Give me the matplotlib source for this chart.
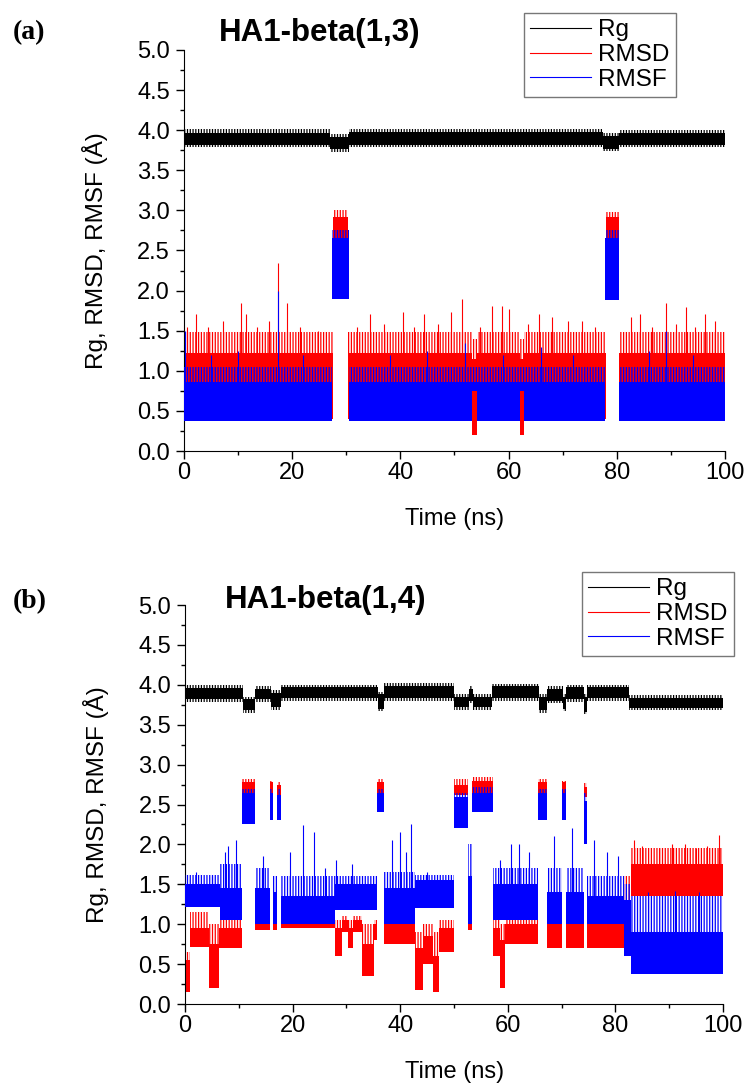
import numpy as np
import matplotlib.pyplot as plt
from matplotlib.lines import Line2D
from matplotlib.ticker import MultipleLocator

plt.rcParams['font.family'] = ['Liberation Sans', 'DejaVu Sans']
plt.rcParams['hatch.linewidth'] = 0.9

# ---- (a) HA1-beta(1,3): bands (segment edges in ns, values in Å) ----
a_rg_edges = [0, 27, 30.5, 77.5, 80.5, 100]
a_rg_bot = [3.79, 3.73, 3.79, 3.74, 3.79]
a_rg_lo = [3.82, 3.76, 3.82, 3.77, 3.82]
a_rg_hi = [3.97, 3.92, 3.98, 3.93, 3.96]
a_rg_top = [4.01, 3.95, 4.02, 3.97, 4.00]

a_rmsd_edges = [0, 27.5, 30.3, 53.3, 54.1, 62.1, 62.8, 78.0, 80.5, 100]
a_rmsd_lo = [0.40, 2.55, 0.40, 0.20, 0.40, 0.20, 0.40, 2.55, 0.40]
a_rmsd_hi = [1.22, 2.92, 1.22, 1.15, 1.22, 1.15, 1.22, 2.92, 1.22]
a_rmsd_top = [1.48, 3.00, 1.48, 1.40, 1.48, 1.40, 1.48, 2.98, 1.48]

a_rmsf_edges = [0, 27.3, 30.5, 53.3, 54.1, 62.1, 62.8, 77.8, 80.5, 100]
a_rmsf_lo = [0.38, 1.90, 0.38, 0.75, 0.38, 0.75, 0.38, 1.88, 0.38]
a_rmsf_hi = [0.86, 2.65, 0.86, 0.86, 0.86, 0.86, 0.86, 2.65, 0.86]
a_rmsf_top = [1.05, 2.75, 1.05, 1.05, 1.05, 1.05, 1.05, 2.75, 1.05]

a_rmsd_spk_t = [0.5, 2.3, 4.5, 7.2, 10.6, 11.5, 13.5, 15.8, 17.3, 19.0, 21.5, 24.8,
                32.0, 34.3, 37.0, 40.4, 42.5, 44.4, 47.0, 49.3, 51.4, 54.8, 56.9, 58.8,
                60.0, 63.5, 65.6, 68.0, 71.0, 73.5, 76.0, 82.7, 84.3, 86.5, 89.1, 91.0,
                92.8, 94.5, 96.3, 98.1]
a_rmsd_spk_v = [1.54, 1.71, 1.55, 1.62, 1.85, 1.71, 1.55, 1.62, 2.34, 1.85, 1.55, 1.50,
                1.55, 1.71, 1.58, 1.73, 1.55, 1.71, 1.58, 1.73, 1.90, 1.55, 1.81, 1.81,
                1.77, 1.58, 1.71, 1.67, 1.62, 1.62, 1.54, 1.67, 1.71, 1.55, 1.85, 1.58,
                1.79, 1.55, 1.71, 1.62]
a_rmsf_spk_t = [0.2, 5.0, 10.0, 17.3, 22.0, 38.0, 45.0, 52.0, 59.0, 66.0, 72.0, 86.0, 89.1, 94.0]
a_rmsf_spk_v = [1.50, 1.20, 1.25, 2.00, 1.20, 1.20, 1.25, 1.35, 1.20, 1.30, 1.20, 1.25, 1.50, 1.20]

# ---- (b) HA1-beta(1,4) ----
b_rg_edges = [0, 10.8, 13.0, 16.0, 17.8, 35.8, 37.0, 50.0, 52.8, 53.5, 57.0, 65.7,
              67.2, 70.2, 70.8, 74.2, 74.7, 82.5, 100]
b_rg_lo = [3.82, 3.68, 3.82, 3.72, 3.83, 3.70, 3.83, 3.72, 3.80, 3.72, 3.83, 3.68,
           3.80, 3.70, 3.82, 3.66, 3.83, 3.71]
b_rg_hi = [3.96, 3.82, 3.95, 3.90, 3.97, 3.88, 3.98, 3.85, 3.95, 3.85, 3.98, 3.85,
           3.95, 3.85, 3.97, 3.85, 3.97, 3.83]
b_rg_bot = [3.79, 3.65, 3.79, 3.69, 3.80, 3.67, 3.80, 3.69, 3.77, 3.69, 3.80, 3.65,
            3.77, 3.67, 3.79, 3.64, 3.80, 3.68]
b_rg_top = [4.00, 3.85, 3.98, 3.93, 4.00, 3.91, 4.02, 3.88, 3.98, 3.88, 4.01, 3.88,
            3.98, 3.88, 4.00, 3.88, 4.00, 3.87]

b_rmsd_edges = [0, 1.0, 4.5, 6.3, 10.6, 13.0, 15.7, 16.3, 17.1, 17.9, 27.8, 29.2, 30.3,
                31.2, 32.8, 35.2, 35.7, 37.0, 42.8, 44.3, 46.0, 47.2, 50.0, 52.6, 53.3,
                57.2, 58.5, 59.5, 65.6, 67.2, 70.1, 70.8, 74.2, 74.7, 81.5, 82.8, 100]
b_rmsd_lo = [0.15, 0.72, 0.20, 0.70, 2.62, 0.93, 2.62, 0.93, 2.62, 0.95, 0.60, 0.90,
             0.70, 0.90, 0.35, 0.80, 2.65, 0.75, 0.18, 0.50, 0.15, 0.65, 2.62, 0.93,
             2.65, 0.60, 0.20, 0.75, 2.65, 0.70, 2.65, 0.70, 2.60, 0.70, 0.80, 1.35]
b_rmsd_hi = [0.55, 0.95, 0.75, 0.95, 2.78, 1.05, 2.78, 1.05, 2.75, 1.08, 0.95, 1.05,
             0.95, 1.05, 0.75, 1.00, 2.78, 1.00, 0.70, 0.85, 0.60, 0.95, 2.75, 1.05,
             2.80, 0.95, 0.80, 1.00, 2.78, 1.00, 2.78, 1.00, 2.72, 1.00, 1.20, 1.75]
b_rmsd_top = [0.65, 1.15, 1.00, 1.10, 2.82, 1.10, 2.80, 1.10, 2.78, 1.15, 1.05, 1.10,
              1.05, 1.10, 1.00, 1.05, 2.82, 1.10, 0.90, 1.00, 0.90, 1.05, 2.82, 1.10,
              2.85, 1.10, 1.00, 1.10, 2.82, 1.10, 2.80, 1.10, 2.77, 1.10, 1.60, 1.95]

b_rmsf_edges = [0, 6.5, 10.6, 13.0, 15.7, 16.3, 17.1, 17.9, 27.8, 35.7, 37.0, 42.8,
                50.0, 52.6, 53.3, 57.2, 65.6, 67.2, 70.1, 70.8, 74.2, 74.7, 81.5, 82.8, 100]
b_rmsf_lo = [1.22, 1.05, 2.25, 1.00, 2.30, 1.00, 2.30, 1.00, 1.18, 2.40, 1.00, 1.20,
             2.20, 1.00, 2.40, 1.05, 2.30, 1.00, 2.30, 1.00, 2.00, 1.00, 0.60, 0.38]
b_rmsf_hi = [1.50, 1.45, 2.65, 1.45, 2.65, 1.40, 2.62, 1.35, 1.50, 2.65, 1.45, 1.55,
             2.60, 1.60, 2.65, 1.50, 2.65, 1.40, 2.65, 1.40, 2.55, 1.35, 1.30, 0.90]
b_rmsf_top = [1.62, 1.75, 2.70, 1.70, 2.70, 1.60, 2.70, 1.60, 1.60, 2.70, 1.65, 1.62,
              2.65, 2.00, 2.72, 1.70, 2.70, 1.70, 2.70, 1.70, 2.65, 1.60, 1.50, 1.35]

b_rmsd_spk_t = [83.5, 85.0, 88.0, 90.5, 93.0, 95.0, 97.0, 99.3]
b_rmsd_spk_v = [2.05, 1.98, 1.95, 2.00, 2.00, 1.95, 1.98, 2.12]
b_rmsf_spk_t = [2.0, 5.0, 7.5, 8.0, 9.5, 14.5, 19.5, 22.0, 24.0, 26.0, 28.0, 31.0,
                38.5, 40.0, 41.0, 42.0, 45.0, 58.5, 60.5, 62.0, 64.0, 68.5, 72.0,
                76.0, 78.5, 80.5, 86.0, 91.0, 95.5]
b_rmsf_spk_v = [1.65, 1.60, 1.90, 1.98, 2.05, 1.85, 1.90, 2.24, 2.15, 1.70, 1.80, 1.75,
                2.05, 2.15, 1.90, 2.25, 1.65, 1.80, 2.00, 2.00, 1.90, 2.10, 2.20,
                2.05, 1.90, 1.85, 1.40, 1.42, 1.40]

RG_C, RMSD_C, RMSF_C = 'black', '#ff0000', '#0000ff'


def band(ax, edges, lo, hi, top, color, z, bot=None):
    # solid core of the noisy trace, with a comb-like fringe above (and below for Rg)
    ax.stairs(hi, edges, baseline=lo, fill=True, color=color, lw=0, zorder=z)
    ax.stairs(top, edges, baseline=hi, fill=True, facecolor='none', edgecolor=color,
              hatch='||||||', lw=0, zorder=z)
    if bot is not None:
        ax.stairs(lo, edges, baseline=bot, fill=True, facecolor='none', edgecolor=color,
                  hatch='||||||', lw=0, zorder=z)


def spikes(ax, edges, hi, ts, vs, color, z):
    idx = np.searchsorted(edges, ts, side='right') - 1
    base = np.asarray(hi)[idx]
    ax.vlines(ts, base, vs, color=color, lw=0.8, zorder=z)


def style(ax):
    ax.set_xlim(0, 100)
    ax.set_ylim(0, 5)
    ax.spines['top'].set_visible(False)
    ax.spines['right'].set_visible(False)
    ax.xaxis.set_major_locator(MultipleLocator(20))
    ax.xaxis.set_minor_locator(MultipleLocator(10))
    ax.yaxis.set_major_locator(MultipleLocator(0.5))
    ax.yaxis.set_minor_locator(MultipleLocator(0.25))
    ax.yaxis.set_major_formatter('{x:.1f}')
    ax.tick_params(which='major', direction='out', length=6, width=1, labelsize=17)
    ax.tick_params(which='minor', direction='out', length=3, width=1)
    ax.tick_params(axis='x', pad=2)
    ax.tick_params(axis='y', pad=4)
    ax.set_xlabel('Time (ns)', fontsize=17, labelpad=17)
    ax.set_ylabel('Rg, RMSD, RMSF (Å)', fontsize=17.5, labelpad=21)


fig = plt.figure(figsize=(7.47, 10.86), dpi=100)
ax_a = fig.add_axes([0.2463, 0.5847, 0.7242, 0.3693])
ax_b = fig.add_axes([0.2477, 0.0755, 0.7203, 0.3674])

band(ax_a, a_rg_edges, a_rg_lo, a_rg_hi, a_rg_top, RG_C, 1, bot=a_rg_bot)
band(ax_a, a_rmsd_edges, a_rmsd_lo, a_rmsd_hi, a_rmsd_top, RMSD_C, 2)
spikes(ax_a, a_rmsd_edges, a_rmsd_hi, a_rmsd_spk_t, a_rmsd_spk_v, RMSD_C, 2)
band(ax_a, a_rmsf_edges, a_rmsf_lo, a_rmsf_hi, a_rmsf_top, RMSF_C, 3)
spikes(ax_a, a_rmsf_edges, a_rmsf_hi, a_rmsf_spk_t, a_rmsf_spk_v, RMSF_C, 3)

band(ax_b, b_rg_edges, b_rg_lo, b_rg_hi, b_rg_top, RG_C, 1, bot=b_rg_bot)
band(ax_b, b_rmsd_edges, b_rmsd_lo, b_rmsd_hi, b_rmsd_top, RMSD_C, 2)
spikes(ax_b, b_rmsd_edges, b_rmsd_hi, b_rmsd_spk_t, b_rmsd_spk_v, RMSD_C, 2)
band(ax_b, b_rmsf_edges, b_rmsf_lo, b_rmsf_hi, b_rmsf_top, RMSF_C, 3)
spikes(ax_b, b_rmsf_edges, b_rmsf_hi, b_rmsf_spk_t, b_rmsf_spk_v, RMSF_C, 3)

for ax in (ax_a, ax_b):
    style(ax)

handles = [Line2D([], [], color=RG_C, lw=0.8),
           Line2D([], [], color=RMSD_C, lw=0.8),
           Line2D([], [], color=RMSF_C, lw=0.8)]
labels = ['Rg', 'RMSD', 'RMSF']
for x0, y0 in [(524 / 747, 1 - 13 / 1086), (582 / 747, 1 - 572 / 1086)]:
    fig.legend(handles, labels, loc='upper left', bbox_to_anchor=(x0, y0),
               fontsize=17.5, frameon=True, fancybox=False, edgecolor='#777777',
               framealpha=1, borderpad=0.25, borderaxespad=0, handlelength=2.5,
               handletextpad=0.3, labelspacing=0.12)

fig.text(13 / 747, 1 - 33 / 1086, '(a)', fontsize=20, fontweight='bold',
         family=['Liberation Serif', 'DejaVu Serif'], ha='left', va='center')
fig.text(13 / 747, 1 - 602 / 1086, '(b)', fontsize=20, fontweight='bold',
         family=['Liberation Serif', 'DejaVu Serif'], ha='left', va='center')
fig.text(320 / 747, 1 - 33 / 1086, 'HA1-beta(1,3)', fontsize=22.5, fontweight='bold',
         ha='center', va='center')
fig.text(326 / 747, 1 - 600 / 1086, 'HA1-beta(1,4)', fontsize=22.5, fontweight='bold',
         ha='center', va='center')

fig.savefig('out.png', dpi=100)
